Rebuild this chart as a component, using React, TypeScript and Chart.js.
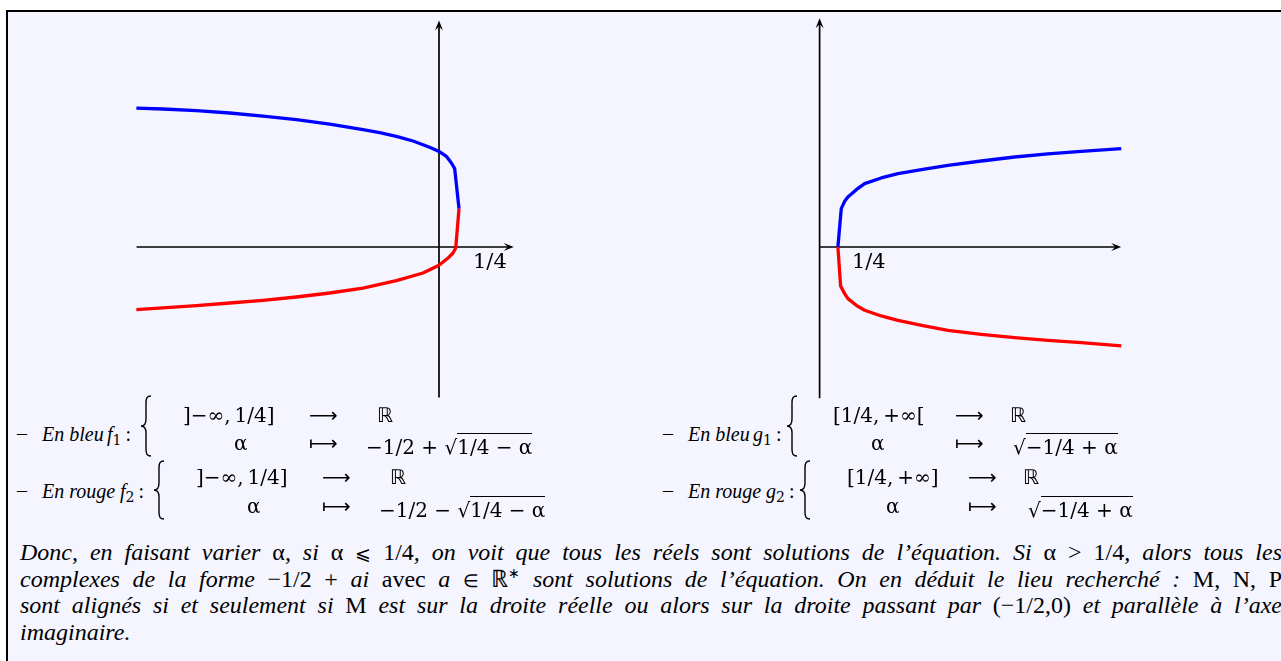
import React, { useEffect, useRef } from "react";
import { Chart, registerables } from "chart.js";
Chart.register(...registerables);

// ---- Left figure : f1 (blue) and f2 (red) ----
const f1X = [-3.783, -3.45, -3.033, -2.616, -2.2, -1.783, -1.366, -0.95, -0.741, -0.533, -0.325, -0.2, -0.095, 0, 0.092, 0.155, 0.196, 0.25];
const f1Y = [1.737, 1.725, 1.704, 1.675, 1.637, 1.591, 1.537, 1.466, 1.429, 1.383, 1.325, 1.279, 1.237, 1.195, 1.133, 1.05, 0.979, 0.479];
const f2X = [0.25, 0.209, 0.175, 0.113, 0, -0.2, -0.533, -0.95, -1.366, -1.783, -2.2, -2.616, -3.033, -3.783];
const f2Y = [0.479, -0.013, -0.075, -0.138, -0.229, -0.325, -0.421, -0.513, -0.575, -0.625, -0.667, -0.7, -0.733, -0.783];

// ---- Right figure : g1 (blue) and g2 (red) ----
const g1X = [0.25, 0.296, 0.342, 0.387, 0.501, 0.615, 0.842, 1.07, 1.412, 1.753, 2.209, 2.664, 3.119, 3.575, 4.121];
const g1Y = [0, 0.479, 0.571, 0.625, 0.717, 0.792, 0.863, 0.917, 0.971, 1.021, 1.075, 1.125, 1.163, 1.196, 1.229];
const g2X = [0.25, 0.287, 0.342, 0.387, 0.501, 0.615, 0.842, 1.07, 1.412, 1.753, 2.209, 2.664, 3.119, 3.575, 4.121];
const g2Y = [0, -0.487, -0.583, -0.645, -0.729, -0.791, -0.862, -0.916, -0.983, -1.041, -1.091, -1.133, -1.166, -1.195, -1.237];

// axes extents
const leftXAxis = [-3.78, 0.934];
const leftYAxis = [-1.88, 2.83];
const rightXAxis = [0, 4.12];
const rightYAxis = [-1.89, 2.86];
const tickValue = 0.25;
const tickLabel = "1/4";

const BLUE = "#0000ff";
const RED = "#ff0000";
const TXT = '"Liberation Serif", "Times New Roman", serif';
const MATH = '"DejaVu Serif", serif';
const SYM = '"DejaVu Sans", sans-serif';

function arrowHead(ctx: any, tx: number, ty: number, dx: number, dy: number) {
  const len = 10, w = 4;
  const nx = -dy, ny = dx;
  ctx.beginPath();
  ctx.moveTo(tx, ty);
  ctx.lineTo(tx - dx * len + nx * w, ty - dy * len + ny * w);
  ctx.lineTo(tx - dx * len * 0.6, ty - dy * len * 0.6);
  ctx.lineTo(tx - dx * len - nx * w, ty - dy * len - ny * w);
  ctx.closePath();
  ctx.fill();
}

const axesPlugin = {
  id: "axesArrows",
  beforeDatasetsDraw(chart: any, _args: any, o: any) {
    const { ctx } = chart;
    const x = chart.scales.x, y = chart.scales.y;
    ctx.save();
    ctx.strokeStyle = "#000";
    ctx.fillStyle = "#000";
    ctx.lineWidth = 1.7;
    const x0 = x.getPixelForValue(o.xAxis[0]);
    const x1 = x.getPixelForValue(o.xAxis[1]);
    const y0 = y.getPixelForValue(0);
    ctx.beginPath();
    ctx.moveTo(x0, y0);
    ctx.lineTo(x1 - 5, y0);
    ctx.stroke();
    arrowHead(ctx, x1, y0, 1, 0);
    const yx = x.getPixelForValue(0);
    const yb = y.getPixelForValue(o.yAxis[0]);
    const yt = y.getPixelForValue(o.yAxis[1]);
    ctx.beginPath();
    ctx.moveTo(yx, yb);
    ctx.lineTo(yx, yt + 5);
    ctx.stroke();
    arrowHead(ctx, yx, yt, 0, -1);
    ctx.font = '21px "DejaVu Serif"';
    ctx.textBaseline = "alphabetic";
    ctx.textAlign = "left";
    ctx.fillText(o.label, x.getPixelForValue(o.labelAt) + 14, y0 + 21);
    ctx.restore();
  },
};

function pts(xs: number[], ys: number[]) {
  return xs.map((v, i) => ({ x: v, y: ys[i] }));
}

function Plot(props: any) {
  const ref = useRef<HTMLCanvasElement>(null);
  useEffect(() => {
    const ds = props.series.map((s: any) => ({
      data: pts(s.x, s.y),
      borderColor: s.color,
      backgroundColor: s.color,
      borderWidth: 3.3,
      showLine: true,
      pointRadius: 0,
      tension: 0,
      borderCapStyle: "butt",
      borderJoinStyle: "round",
    }));
    const chart = new Chart(ref.current as HTMLCanvasElement, {
      type: "scatter",
      data: { datasets: ds },
      options: {
        animation: false,
        responsive: false,
        maintainAspectRatio: false,
        events: [],
        layout: { padding: 0 },
        plugins: {
          legend: { display: false },
          tooltip: { enabled: false },
          axesArrows: { xAxis: props.xAxis, yAxis: props.yAxis, label: tickLabel, labelAt: tickValue },
        } as any,
        scales: {
          x: { type: "linear", display: false, min: props.xMin, max: props.xMax },
          y: { type: "linear", display: false, min: props.yMin, max: props.yMax },
        },
      },
      plugins: [axesPlugin as any],
    });
    return () => chart.destroy();
  }, []);
  return (
    <canvas
      ref={ref}
      width={props.width}
      height={props.height}
      style={{ position: "absolute", left: props.left, top: props.top, width: props.width, height: props.height }}
    />
  );
}

function P(props: any) {
  const s = props.s || 20;
  return (
    <span
      style={{
        position: "absolute",
        left: props.x,
        top: props.b - 0.84 * s,
        fontSize: s,
        lineHeight: `${s}px`,
        fontFamily: props.f || MATH,
        fontStyle: props.it ? "italic" : "normal",
        whiteSpace: "nowrap",
        color: "#000",
      }}
    >
      {props.children}
    </span>
  );
}

function Brace(props: any) {
  const w = 12, h = props.h, m = h / 2;
  const c = 6;
  const d = `M ${w - 1} 1 C ${c + 1} 1, ${c} 3, ${c} 8 L ${c} ${m - 7} C ${c} ${m - 2}, ${c - 2} ${m}, 1 ${m} C ${c - 2} ${m}, ${c} ${m + 2}, ${c} ${m + 7} L ${c} ${h - 8} C ${c} ${h - 3}, ${c + 1} ${h - 1}, ${w - 1} ${h - 1}`;
  return (
    <svg style={{ position: "absolute", left: props.x, top: props.top }} width={w} height={h}>
      <path d={d} fill="none" stroke="#000" strokeWidth={1.4} />
    </svg>
  );
}

function Sqrt(props: any) {
  return (
    <span>
      <span style={{ fontFamily: SYM }}>√</span>
      <span style={{ display: "inline-block", borderTop: "1.2px solid #000", paddingTop: 3, lineHeight: "20px" }}>
        {props.children}
      </span>
    </span>
  );
}

function Label(props: any) {
  return (
    <>
      <P x={props.x} b={props.b - 1} f={TXT}>–</P>
      <P x={props.x + 25} b={props.b} f={TXT} s={20} it>{props.text}</P>
      <P x={props.fx} b={props.b} f={TXT}>
        <i>{props.fn}</i>
        <span style={{ fontSize: 14, fontFamily: MATH, position: "relative", top: 4 }}>{props.sub}</span>
        <span style={{ marginLeft: 4 }}>:</span>
      </P>
    </>
  );
}

const M = (props: any) => <span style={{ fontStyle: "normal" }}>{props.children}</span>;

function Line(props: any) {
  const s = 24;
  return (
    <div
      style={{
        position: "absolute",
        left: 20,
        width: 1262,
        top: props.b - 0.84 * s,
        fontSize: s,
        lineHeight: `${s}px`,
        fontFamily: TXT,
        fontStyle: "italic",
        textAlign: "justify",
        textAlignLast: props.last ? "left" : "justify",
        color: "#000",
      } as any}
    >
      {props.children}
    </div>
  );
}

export default function App() {
  return (
    <div style={{ position: "absolute", left: 0, top: 0, width: 1281, height: 661, overflow: "hidden", background: "#fff" }}>
      <div
        style={{
          position: "absolute",
          left: 6,
          top: 10,
          width: 1300,
          height: 700,
          borderLeft: "2px solid #000",
          borderTop: "2px solid #000",
          background: "#f4f5fe",
        }}
      />
      <Plot
        left={119} top={11} width={420} height={396}
        xMin={-4} xMax={1.25} yMin={-2} yMax={2.95}
        xAxis={leftXAxis} yAxis={leftYAxis}
        series={[{ x: f1X, y: f1Y, color: BLUE }, { x: f2X, y: f2Y, color: RED }]}
      />
      <Plot
        left={783} top={11} width={366} height={396}
        xMin={-0.5} xMax={4.5} yMin={-2} yMax={2.95}
        xAxis={rightXAxis} yAxis={rightYAxis}
        series={[{ x: g1X, y: g1Y, color: BLUE }, { x: g2X, y: g2Y, color: RED }]}
      />

      {/* Left block : f1 */}
      <Label x={17} b={441} text="En bleu" fx={107} fn="f" sub="1" />
      <Brace x={140} top={395} h={62} />
      <P x={183} b={422}>]−∞,&thinsp;1/4]</P>
      <P x={309} b={422} f={SYM}>⟶</P>
      <P x={377} b={422} f={SYM}>ℝ</P>
      <P x={234} b={450}>α</P>
      <P x={309} b={450} f={SYM}>⟼</P>
      <P x={366} b={450}>−1/2 + <Sqrt>1/4 − α</Sqrt></P>

      {/* Left block : f2 */}
      <Label x={17} b={498} text="En rouge" fx={120} fn="f" sub="2" />
      <Brace x={153} top={460} h={60} />
      <P x={196} b={484}>]−∞,&thinsp;1/4]</P>
      <P x={322} b={484} f={SYM}>⟶</P>
      <P x={390} b={484} f={SYM}>ℝ</P>
      <P x={247} b={513}>α</P>
      <P x={322} b={513} f={SYM}>⟼</P>
      <P x={379} b={513}>−1/2 − <Sqrt>1/4 − α</Sqrt></P>

      {/* Right block : g1 */}
      <Label x={663} b={441} text="En bleu" fx={753} fn="g" sub="1" />
      <Brace x={786} top={395} h={62} />
      <P x={833} b={422}>[1/4,&thinsp;+∞[</P>
      <P x={955} b={422} f={SYM}>⟶</P>
      <P x={1010} b={422} f={SYM}>ℝ</P>
      <P x={871} b={450}>α</P>
      <P x={955} b={450} f={SYM}>⟼</P>
      <P x={1013} b={450}><Sqrt>−1/4 + α</Sqrt></P>

      {/* Right block : g2 */}
      <Label x={663} b={498} text="En rouge" fx={766} fn="g" sub="2" />
      <Brace x={799} top={460} h={60} />
      <P x={847} b={484}>[1/4,&thinsp;+∞]</P>
      <P x={968} b={484} f={SYM}>⟶</P>
      <P x={1023} b={484} f={SYM}>ℝ</P>
      <P x={886} b={513}>α</P>
      <P x={968} b={513} f={SYM}>⟼</P>
      <P x={1028} b={513}><Sqrt>−1/4 + α</Sqrt></P>

      <Line b={560}>
        Donc, en faisant varier <M>α</M>, si <M>α <span style={{ fontSize: 19 }}>⩽</span> 1/4</M>, on voit que tous les réels sont solutions de l’équation. Si <M>α &gt; 1/4</M>, alors tous les
      </Line>
      <Line b={587}>
        complexes de la forme <M>−1/2 + </M>ai <M>avec </M>a <M><span style={{ fontSize: 18 }}>∈</span> ℝ<span style={{ fontSize: 14, position: "relative", top: -9, lineHeight: 0 }}>∗</span></M> sont solutions de l’équation. On en déduit le lieu recherché : <M>M, N, P</M>
      </Line>
      <Line b={613}>
        sont alignés si et seulement si <M>M</M> est sur la droite réelle ou alors sur la droite passant par <M>(−1/2,0)</M> et parallèle à l’axe
      </Line>
      <Line b={640} last>
        imaginaire.
      </Line>
    </div>
  );
}
